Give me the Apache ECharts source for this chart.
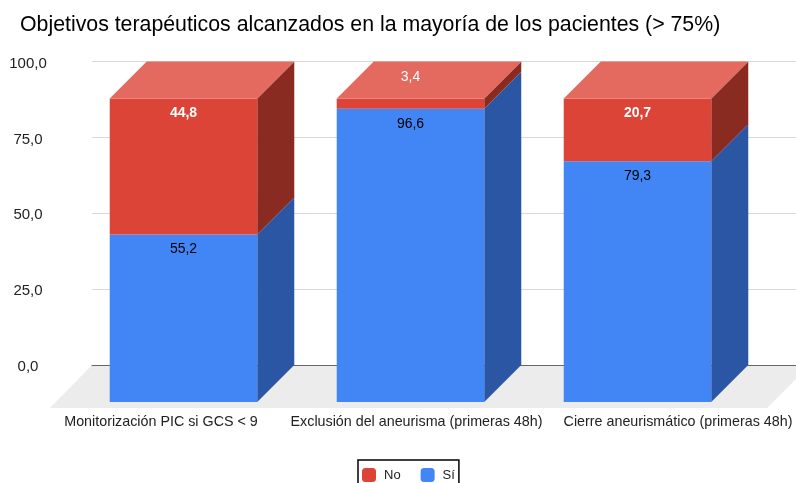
<!DOCTYPE html>
<html>
<head>
<meta charset="utf-8">
<title>Objetivos terapéuticos</title>
<style>
  html, body { margin: 0; padding: 0; background: #fff; overflow: hidden; }
  #chart { width: 796px; height: 483px; }
</style>
<script src="https://cdn.jsdelivr.net/npm/echarts@6/dist/echarts.min.js"></script>
</head>
<body>
<div id="chart"></div>
<script>
var titleText = 'Objetivos terapéuticos alcanzados en la mayoría de los pacientes (> 75%)';
var categories = [
  'Monitorización PIC si GCS < 9',
  'Exclusión del aneurisma (primeras 48h)',
  'Cierre aneurismático (primeras 48h)'
];
var siValues = [55.2, 96.6, 79.3];
var noValues = [44.8, 3.4, 20.7];
var yTicks = [0, 25, 50, 75, 100];

// depth of the fake 3D box, in px
var DEPTH = 37;
var BAR_RATIO = 0.65;
var FONT = '"Liberation Sans", Arial, sans-serif';

var chart = echarts.init(document.getElementById('chart'), null, { renderer: 'canvas' });

function fmt(v) {
  return v.toFixed(1).replace('.', ',');
}

// one stacked segment: front face, side face and (for the last one) the lid
function makeRenderer(colors, isTop) {
  return function (params, api) {
    var idx = api.value(0);
    var low = api.coord([idx, api.value(1)]);
    var high = api.coord([idx, api.value(2)]);
    var w = api.size([1, 0])[0] * BAR_RATIO;
    var x0 = low[0] - w / 2;
    var x1 = low[0] + w / 2;
    var children = [];

    children.push({
      type: 'polygon',
      shape: { points: [[x1, high[1]], [x1 + DEPTH, high[1] - DEPTH], [x1 + DEPTH, low[1] - DEPTH], [x1, low[1]]] },
      style: { fill: colors.side }
    });
    children.push({
      type: 'rect',
      shape: { x: x0, y: high[1], width: w, height: low[1] - high[1] },
      style: { fill: colors.front }
    });
    if (isTop) {
      children.push({
        type: 'polygon',
        shape: { points: [[x0, high[1]], [x0 + DEPTH, high[1] - DEPTH], [x1 + DEPTH, high[1] - DEPTH], [x1, high[1]]] },
        style: { fill: colors.top }
      });
    }

    // thin segments have no room, their label moves up on to the lid
    var thin = low[1] - high[1] < 24;
    children.push({
      type: 'text',
      z2: 10,
      style: {
        x: low[0],
        y: thin ? high[1] - 21 : high[1] + 15,
        text: fmt(api.value(2) - api.value(1)),
        align: 'center',
        verticalAlign: 'middle',
        fill: colors.label,
        font: (isTop && !thin ? 'bold ' : '') + '14px ' + FONT
      }
    });
    return { type: 'group', children: children };
  };
}

var siData = categories.map(function (c, i) { return [i, 0, siValues[i]]; });
var noData = categories.map(function (c, i) { return [i, siValues[i], siValues[i] + noValues[i]]; });

chart.setOption({
  animation: false,
  backgroundColor: '#fff',
  title: {
    text: titleText,
    left: 15,
    top: 10,
    textStyle: { fontFamily: FONT, fontSize: 21.3, fontWeight: 'normal', color: '#000' }
  },
  legend: {
    data: ['No', 'Sí'],
    left: 358,
    top: 460,
    orient: 'horizontal',
    icon: 'roundRect',
    itemWidth: 14,
    itemHeight: 14,
    itemGap: 20,
    padding: [8, 4, 12, 4],
    borderColor: '#000',
    borderWidth: 1.5,
    selectedMode: false,
    textStyle: { fontFamily: FONT, fontSize: 13, color: '#222', padding: [0, 0, 0, 3] }
  },
  // back wall carries the gridlines, front plane carries the bars
  grid: [
    { left: 92, right: 0, top: 61.5, height: 303.5 },
    { left: 70, width: 681, top: 98.5, height: 303.5 }
  ],
  xAxis: [
    {
      gridIndex: 0,
      type: 'value',
      min: 0,
      max: 1,
      axisLabel: { show: false },
      axisTick: { show: false },
      splitLine: { show: false },
      axisLine: { show: true, onZero: false, lineStyle: { color: '#666', width: 1 } }
    },
    {
      gridIndex: 1,
      type: 'category',
      data: categories,
      axisLine: { show: false },
      axisTick: { show: false },
      axisLabel: {
        interval: 0,
        margin: 13,
        fontFamily: FONT,
        fontSize: 14.3,
        color: '#222',
        formatter: function (v, i) { return '{c' + i + '|' + v + '}'; },
        rich: {
          c0: { padding: [0, 45, 0, 0], fontFamily: FONT, fontSize: 14.3, color: '#222' },
          c1: { padding: [0, 0, 0, 12], fontFamily: FONT, fontSize: 14.3, color: '#222' },
          c2: { padding: [0, 0, 0, 81], fontFamily: FONT, fontSize: 14.3, color: '#222' }
        }
      }
    }
  ],
  yAxis: [
    {
      gridIndex: 0,
      type: 'value',
      min: yTicks[0],
      max: yTicks[yTicks.length - 1],
      interval: yTicks[1] - yTicks[0],
      axisLine: { show: false },
      axisTick: { show: false },
      axisLabel: {
        margin: 64,
        align: 'center',
        fontFamily: FONT,
        fontSize: 15,
        color: '#222',
        formatter: function (v) { return '{t|' + fmt(v) + '}'; },
        rich: {
          t: { padding: [4, 0, 0, 0], fontFamily: FONT, fontSize: 15, color: '#222' }
        }
      },
      splitLine: { show: true, lineStyle: { color: '#d9d9d9', width: 1 } }
    },
    {
      gridIndex: 1,
      type: 'value',
      min: 0,
      max: 100,
      show: false
    }
  ],
  graphic: [
    {
      type: 'polygon',
      z: 0,
      silent: true,
      shape: { points: [[92, 365], [810, 365], [767, 408], [50, 408]] },
      style: { fill: '#ececec' }
    }
  ],
  series: [
    {
      name: 'Sí',
      type: 'custom',
      xAxisIndex: 1,
      yAxisIndex: 1,
      clip: false,
      itemStyle: { color: '#4285f4' },
      encode: { x: 0, y: [1, 2] },
      data: siData,
      renderItem: makeRenderer({ front: '#4285f4', side: '#2a56a3', label: '#000' }, false)
    },
    {
      name: 'No',
      type: 'custom',
      xAxisIndex: 1,
      yAxisIndex: 1,
      clip: false,
      itemStyle: { color: '#db4437' },
      encode: { x: 0, y: [1, 2] },
      data: noData,
      renderItem: makeRenderer({ front: '#db4437', side: '#8a2b22', top: '#e46a5f', label: '#fff' }, true)
    }
  ]
});
</script>
</body>
</html>
